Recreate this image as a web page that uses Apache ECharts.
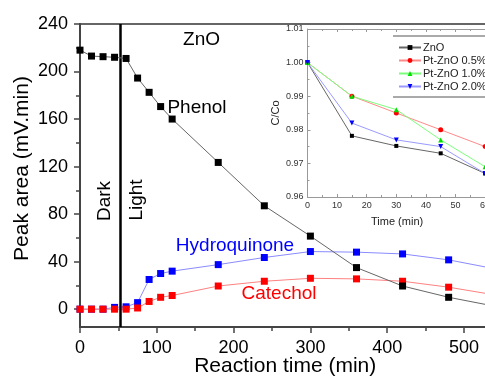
<!DOCTYPE html>
<html>
<head>
<meta charset="utf-8">
<script src="https://cdn.jsdelivr.net/npm/echarts@6/dist/echarts.min.js"></script>
<style>html,body{margin:0;padding:0;background:#fff;}#c{width:485px;height:376px;}</style>
</head>
<body>
<div id="c"></div>
<script>
// ---- data ----
const mainTime = [0, 15, 30, 45, 60, 75, 90, 105, 120, 180, 240, 300, 360, 420, 480, 540];
const phenol = [218, 213, 212.5, 212, 211, 194.5, 182.5, 170.5, 160, 123.5, 87, 61.5, 35, 19.5, 10, 2.5];
const hydroquinone = [0, 0, 0, 1.5, 2, 5.5, 25, 30, 32, 37.5, 43.5, 48.5, 48, 46.5, 41.5, 34];
const catechol = [0, 0, 0, 0, 0, 1, 6.5, 10, 11.5, 19.5, 23.5, 26, 25.5, 23.5, 18.5, 12];
const yMajorTicks = [0, 40, 80, 120, 160, 200, 240];
const yMinorTicks = [20, 60, 100, 140, 180, 220];
const darkLightTime = 52.5;

const insetTime = [0, 15, 30, 45, 60];
const insetZnO = [1.000, 0.9782, 0.9752, 0.9730, 0.9670];
const insetPt05 = [1.000, 0.990, 0.985, 0.980, 0.975];
const insetPt10 = [1.000, 0.990, 0.986, 0.977, 0.969];
const insetPt20 = [1.000, 0.982, 0.977, 0.975, 0.967];
const insetNames = ['ZnO', 'Pt-ZnO 0.5%', 'Pt-ZnO 1.0%', 'Pt-ZnO 2.0%'];

const FONT = '"Liberation Sans", Arial, sans-serif';
const pairs = (xs, ys) => xs.map((x, i) => [x, ys[i]]);

const chart = echarts.init(document.getElementById('c'), null, {renderer: 'canvas'});

const mainSeries = (name, ys, lineColor, markColor, z) => ({
  name: name, type: 'line', xAxisIndex: 0, yAxisIndex: 0, data: pairs(mainTime, ys),
  symbol: 'rect', symbolSize: 7, z: z,
  lineStyle: {color: lineColor, width: 1},
  itemStyle: {color: markColor},
  emphasis: {disabled: true}, animation: false
});
const insetSeries = (name, ys, lineColor, markColor, symbol, size, rot) => ({
  name: name, type: 'line', xAxisIndex: 2, yAxisIndex: 2, data: pairs(insetTime, ys),
  symbol: symbol, symbolSize: size, symbolRotate: rot || 0, z: 12,
  lineStyle: {color: lineColor, width: 1},
  itemStyle: {color: markColor},
  emphasis: {disabled: true}, animation: false
});

const option = {
  animation: false,
  textStyle: {fontFamily: FONT},
  grid: [
    {left: 80, top: 24, right: -17.4, bottom: 49, containLabel: false, outerBoundsMode: 'none',
      show: true, borderColor: '#666', borderWidth: 2, backgroundColor: 'transparent'},
    {left: 307.5, top: 29, width: 207.2, height: 168, containLabel: false, outerBoundsMode: 'none',
      show: true, backgroundColor: '#fff', borderWidth: 0, z: 10}
  ],
  xAxis: [
    {type: 'value', gridIndex: 0, min: 0, max: 550, interval: 100, position: 'bottom',
      axisLine: {onZero: false, lineStyle: {color: '#444', width: 2}},
      axisTick: {show: true, inside: false, length: 6, lineStyle: {color: '#444', width: 1.5}},
      minorTick: {show: true, splitNumber: 2, length: 4, lineStyle: {color: '#444', width: 1.5}},
      axisLabel: {fontSize: 18, color: '#000', margin: 12, fontFamily: FONT, showMaxLabel: false},
      splitLine: {show: false},
      name: 'Reaction time (min)', nameLocation: 'middle', nameGap: 29, nameMoveOverlap: false,
      nameTextStyle: {fontSize: 21, color: '#000', fontFamily: FONT, padding: [0, 12, 0, 0]}},
    {type: 'value', gridIndex: 0, min: 0, max: 550, position: 'top', show: false},
    {type: 'value', gridIndex: 1, min: 0, max: 70, interval: 10, position: 'bottom', z: 11,
      axisLine: {onZero: false, lineStyle: {color: '#999', width: 1}},
      axisTick: {show: true, inside: true, length: 3, lineStyle: {color: '#999'}},
      minorTick: {show: true, splitNumber: 2, length: 2, lineStyle: {color: '#999'}},
      axisLabel: {fontSize: 9, color: '#333', margin: 4, fontFamily: FONT},
      splitLine: {show: false},
      name: 'Time (min)', nameLocation: 'middle', nameGap: 19, nameMoveOverlap: false,
      nameTextStyle: {fontSize: 11, color: '#222', fontFamily: FONT, padding: [0, 0, 0, -28]}},
    {type: 'value', gridIndex: 1, min: 0, max: 70, interval: 10, position: 'top', z: 11,
      axisLine: {onZero: false, lineStyle: {color: '#999', width: 1}},
      axisTick: {show: true, inside: true, length: 3, lineStyle: {color: '#999'}},
      minorTick: {show: true, splitNumber: 2, length: 2, lineStyle: {color: '#999'}},
      axisLabel: {show: false}, splitLine: {show: false}}
  ],
  yAxis: [
    {type: 'value', gridIndex: 0, min: -15, max: 240,
      axisLine: {onZero: false, lineStyle: {color: '#444', width: 2}},
      axisTick: {show: true, inside: false, length: 6, customValues: yMajorTicks, lineStyle: {color: '#444', width: 1.5}},
      axisLabel: {fontSize: 18, color: '#000', margin: 12, customValues: yMajorTicks, fontFamily: FONT},
      splitLine: {show: false},
      name: 'Peak area (mV.min)', nameLocation: 'middle', nameGap: 47, nameRotate: 90, nameMoveOverlap: false,
      nameTextStyle: {fontSize: 21, color: '#000', fontFamily: FONT, padding: [0, 0, 0, 14]}},
    {type: 'value', gridIndex: 0, min: -15, max: 240, position: 'left',
      axisLine: {show: false},
      axisTick: {show: true, inside: false, length: 4, customValues: yMinorTicks, lineStyle: {color: '#444', width: 1.5}},
      axisLabel: {show: false}, splitLine: {show: false}},
    {type: 'value', gridIndex: 1, min: 0.96, max: 1.01, interval: 0.01, z: 11,
      axisLine: {onZero: false, lineStyle: {color: '#999', width: 1}},
      axisTick: {show: true, inside: true, length: 3, lineStyle: {color: '#999'}},
      minorTick: {show: true, splitNumber: 2, length: 2, lineStyle: {color: '#999'}},
      axisLabel: {fontSize: 9, color: '#333', margin: 4, fontFamily: FONT, formatter: v => v.toFixed(2)},
      splitLine: {show: false},
      name: 'C/Co', nameLocation: 'middle', nameGap: 26, nameRotate: 90, nameMoveOverlap: false,
      nameTextStyle: {fontSize: 11, color: '#222', fontFamily: FONT}}
  ],
  legend: {
    data: insetNames, orient: 'vertical', left: 393, top: 37, z: 20,
    itemWidth: 22, itemHeight: 6, itemGap: 2,
    textStyle: {fontSize: 11, color: '#222', fontFamily: FONT, padding: [0, 0, 0, -3]},
    selectedMode: false
  },
  series: [
    mainSeries('Hydroquinone', hydroquinone, '#8a8aff', '#0000ff', 3),
    mainSeries('Catechol', catechol, '#ff8080', '#ff0000', 4),
    Object.assign(mainSeries('Phenol', phenol, '#666', '#000', 5), {
      markLine: {silent: true, symbol: ['none', 'none'], label: {show: false},
        lineStyle: {color: '#000', width: 2.5, type: 'solid'},
        data: [{xAxis: darkLightTime}]}
    }),
    insetSeries(insetNames[0], insetZnO, '#666', '#000', 'rect', 4),
    insetSeries(insetNames[1], insetPt05, '#ff8a8a', '#ff0000', 'circle', 5),
    insetSeries(insetNames[2], insetPt10, '#7dff7d', '#00e000', 'triangle', 5),
    insetSeries(insetNames[3], insetPt20, '#9a9aff', '#0000ff', 'triangle', 5, 180)
  ],
  graphic: [
    {type: 'text', x: 201.5, y: 40, z: 30, style: {text: 'ZnO', font: '19px ' + FONT, fill: '#000', align: 'center', verticalAlign: 'middle', textAlign: 'center', textVerticalAlign: 'middle'}},
    {type: 'text', x: 197, y: 108, z: 30, style: {text: 'Phenol', font: '19px ' + FONT, fill: '#000', align: 'center', verticalAlign: 'middle', textAlign: 'center', textVerticalAlign: 'middle'}},
    {type: 'text', x: 235, y: 246, z: 30, style: {text: 'Hydroquinone', font: '19px ' + FONT, fill: '#0000ff', align: 'center', verticalAlign: 'middle', textAlign: 'center', textVerticalAlign: 'middle'}},
    {type: 'text', x: 279, y: 294, z: 30, style: {text: 'Catechol', font: '19px ' + FONT, fill: '#ff0000', align: 'center', verticalAlign: 'middle', textAlign: 'center', textVerticalAlign: 'middle'}},
    {type: 'text', x: 105, y: 201, rotation: Math.PI / 2, z: 30, style: {text: 'Dark', font: '19px ' + FONT, fill: '#000', align: 'center', verticalAlign: 'middle', textAlign: 'center', textVerticalAlign: 'middle'}},
    {type: 'text', x: 137, y: 200, rotation: Math.PI / 2, z: 30, style: {text: 'Light', font: '19px ' + FONT, fill: '#000', align: 'center', verticalAlign: 'middle', textAlign: 'center', textVerticalAlign: 'middle'}},
    {type: 'line', z: 30, shape: {x1: 393, y1: 36, x2: 485, y2: 36}, style: {stroke: '#555', lineWidth: 1}},
    {type: 'line', z: 30, shape: {x1: 393, y1: 97, x2: 485, y2: 97}, style: {stroke: '#555', lineWidth: 1}}
  ]
};
chart.setOption(option);
</script>
</body>
</html>
